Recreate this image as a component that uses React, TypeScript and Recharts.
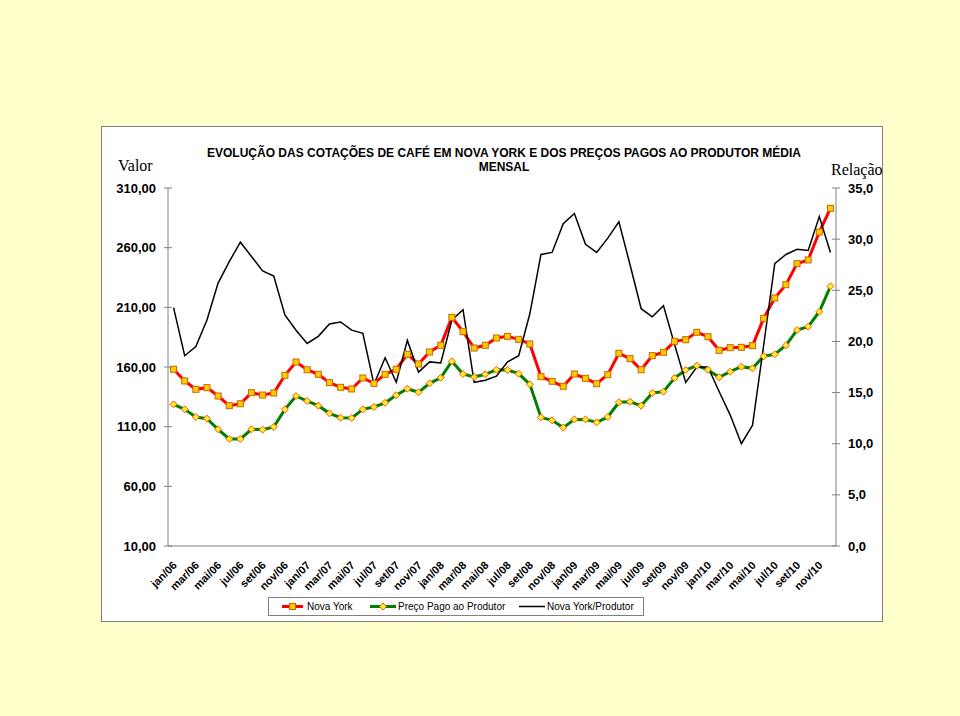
import React from 'react';
import { LineChart, Line, XAxis, YAxis } from 'recharts';

const months = [
  'jan/06','fev/06','mar/06','abr/06','mai/06','jun/06','jul/06','ago/06','set/06','out/06','nov/06','dez/06',
  'jan/07','fev/07','mar/07','abr/07','mai/07','jun/07','jul/07','ago/07','set/07','out/07','nov/07','dez/07',
  'jan/08','fev/08','mar/08','abr/08','mai/08','jun/08','jul/08','ago/08','set/08','out/08','nov/08','dez/08',
  'jan/09','fev/09','mar/09','abr/09','mai/09','jun/09','jul/09','ago/09','set/09','out/09','nov/09','dez/09',
  'jan/10','fev/10','mar/10','abr/10','mai/10','jun/10','jul/10','ago/10','set/10','out/10','nov/10','dez/10',
];

const novaYork = [
  158.1, 148.3, 141.3, 142.7, 135.7, 127.6, 129.2, 138.5, 136.5, 138.2, 153.0, 164.2,
  157.7, 153.9, 146.9, 143.0, 141.6, 150.8, 146.3, 153.9, 158.1, 170.6, 162.5, 172.6,
  178.2, 201.6, 189.6, 175.9, 178.2, 184.3, 185.7, 183.2, 179.3, 151.9, 148.0, 143.8,
  154.1, 150.5, 146.0, 153.6, 171.5, 167.0, 157.7, 169.5, 172.3, 181.5, 182.9, 189.1,
  185.4, 174.0, 176.2, 176.5, 177.9, 200.8, 217.8, 229.0, 246.6, 249.7, 273.1, 293.0,
];

const produtor = [
  128.7, 124.5, 118.1, 116.7, 107.8, 99.7, 99.7, 107.8, 107.5, 109.8, 124.5, 135.7,
  131.5, 127.6, 121.2, 117.5, 117.3, 124.5, 126.5, 130.0, 136.3, 141.8, 138.8, 146.3,
  151.0, 164.8, 154.1, 151.6, 153.9, 157.7, 157.5, 154.4, 145.5, 117.8, 115.3, 109.2,
  116.1, 116.1, 113.6, 118.1, 130.4, 130.9, 127.6, 138.2, 139.3, 150.8, 157.5, 161.1,
  157.7, 151.4, 156.1, 160.3, 158.9, 169.0, 170.6, 178.2, 191.0, 193.8, 206.3, 227.6,
];

const relacao = [
  23.3, 18.6, 19.5, 22.1, 25.7, 27.8, 29.7, 28.3, 26.9, 26.4, 22.6, 21.1,
  19.8, 20.5, 21.7, 21.9, 21.1, 20.8, 15.8, 18.4, 16.0, 20.1, 17.0, 18.0,
  17.9, 22.1, 23.1, 16.0, 16.2, 16.6, 18.0, 18.6, 22.7, 28.5, 28.7, 31.5,
  32.5, 29.5, 28.7, 30.1, 31.7, 27.5, 23.2, 22.4, 23.5, 19.7, 16.0, 17.5,
  17.5, 15.1, 12.8, 10.0, 11.8, 19.6, 27.6, 28.5, 29.0, 28.9, 32.2, 28.7,
];

const leftTicks = [10, 60, 110, 160, 210, 260, 310];
const rightTicks = [0, 5, 10, 15, 20, 25, 30, 35];
const labelMonths = months.filter((_, i) => i % 2 === 0);
const minorTicks = months.map((_, i) => i).concat([months.length]);

const data = months.map((m, i) => ({ m, ny: novaYork[i], pr: produtor[i], rel: relacao[i] }));

const FONT = 'Arial, "Liberation Sans", Helvetica, sans-serif';
const SERIF = '"Times New Roman", "Liberation Serif", serif';
const AXIS = '#808080';
const RED = '#FF0000';
const GREEN = '#008000';

const W = 960;
const H = 716;

const fmt2 = (v: number) => v.toFixed(2).replace('.', ',');
const fmt1 = (v: number) => v.toFixed(1).replace('.', ',');

const Square = (props: any) => {
  const { cx, cy } = props;
  if (cx == null || cy == null) return null;
  return <rect x={cx - 3} y={cy - 3} width={6} height={6} fill="#FFCC00" stroke="#CC6600" strokeWidth={1} />;
};

const Diamond = (props: any) => {
  const { cx, cy } = props;
  if (cx == null || cy == null) return null;
  return (
    <path
      d={`M${cx},${cy - 3.5}L${cx + 3.5},${cy}L${cx},${cy + 3.5}L${cx - 3.5},${cy}Z`}
      fill="#FFEE33"
      stroke="#FF5500"
      strokeWidth={1}
    />
  );
};

const LeftTick = (props: any) => {
  const { x, y, payload } = props;
  return (
    <g>
      <line x1={x - 4} x2={x + 4} y1={y} y2={y} stroke={AXIS} />
      <text x={x - 12} y={y} dy={4.5} textAnchor="end" fontFamily={FONT} fontWeight="bold" fontSize={13} fill="#000">
        {fmt2(payload.value)}
      </text>
    </g>
  );
};

const RightTick = (props: any) => {
  const { x, y, payload } = props;
  return (
    <g>
      <line x1={x - 4} x2={x + 4} y1={y} y2={y} stroke={AXIS} />
      <text x={x + 12} y={y} dy={4.5} textAnchor="start" fontFamily={FONT} fontWeight="bold" fontSize={13} fill="#000">
        {fmt1(payload.value)}
      </text>
    </g>
  );
};

const MinorTick = (props: any) => {
  const { x, y } = props;
  return <line x1={x} x2={x} y1={y - 4} y2={y + 4} stroke={AXIS} />;
};

const MonthTick = (props: any) => {
  const { x, y, payload } = props;
  const ax = x + 4;
  const ay = y + 20;
  return (
    <text
      x={ax}
      y={ay}
      transform={`rotate(-45 ${ax} ${ay})`}
      textAnchor="end"
      fontFamily={FONT}
      fontWeight="bold"
      fontSize={11}
      fill="#000"
    >
      {payload.value}
    </text>
  );
};

const plotW = 668;
const pad = plotW / (2 * months.length);

export default function App() {
  return (
    <div style={{ position: 'absolute', left: 0, top: 0, width: W, height: H, background: '#FFFFCC', overflow: 'hidden' }}>
      <div
        style={{
          position: 'absolute',
          left: 101,
          top: 126,
          width: 780,
          height: 494,
          background: '#FFFFFF',
          border: `1px solid ${AXIS}`,
        }}
      />
      <div style={{ position: 'absolute', left: 0, top: 0 }}>
        <LineChart width={W} height={H} data={data} margin={{ top: 188, right: 64, bottom: 110, left: 108 }}>
          <XAxis
            xAxisId="minor"
            type="number"
            domain={[0, months.length]}
            ticks={minorTicks}
            interval={0}
            allowDataOverflow
            height={0}
            axisLine={false}
            tickLine={false}
            tickSize={0}
            tickMargin={0}
            tick={<MinorTick />}
          />
          <XAxis
            dataKey="m"
            ticks={labelMonths}
            interval={0}
            height={60}
            padding={{ left: pad, right: pad }}
            axisLine={{ stroke: AXIS }}
            tickLine={false}
            tickSize={0}
            tickMargin={0}
            tick={<MonthTick />}
          />
          <YAxis
            yAxisId="left"
            domain={[10, 310]}
            ticks={leftTicks}
            interval={0}
            width={60}
            axisLine={{ stroke: AXIS }}
            tickLine={false}
            tickSize={0}
            tickMargin={0}
            tick={<LeftTick />}
          />
          <YAxis
            yAxisId="right"
            orientation="right"
            domain={[0, 35]}
            ticks={rightTicks}
            interval={0}
            width={60}
            axisLine={{ stroke: AXIS }}
            tickLine={false}
            tickSize={0}
            tickMargin={0}
            tick={<RightTick />}
          />
          <Line yAxisId="left" dataKey="ny" stroke={RED} strokeWidth={3} dot={<Square />} activeDot={false} isAnimationActive={false} />
          <Line yAxisId="left" dataKey="pr" stroke={GREEN} strokeWidth={3} dot={<Diamond />} activeDot={false} isAnimationActive={false} />
          <Line yAxisId="right" dataKey="rel" stroke="#000000" strokeWidth={1.5} dot={false} activeDot={false} isAnimationActive={false} />
        </LineChart>
      </div>
      <svg width={W} height={H} style={{ position: 'absolute', left: 0, top: 0, pointerEvents: 'none' }}>
        <text x={504} y={157} textAnchor="middle" fontFamily={FONT} fontWeight="bold" fontSize={12} fill="#000">
          EVOLUÇÃO DAS COTAÇÕES DE CAFÉ EM NOVA YORK E DOS PREÇOS PAGOS AO PRODUTOR MÉDIA
        </text>
        <text x={504} y={171} textAnchor="middle" fontFamily={FONT} fontWeight="bold" fontSize={12} fill="#000">
          MENSAL
        </text>
        <text x={118} y={171} fontFamily={SERIF} fontSize={16} fill="#000">Valor</text>
        <text x={831} y={175} fontFamily={SERIF} fontSize={16} fill="#000">Relação</text>
        <rect x={268.5} y={597.5} width={375} height={18} fill="#FFFFFF" stroke={AXIS} />
        <line x1={282} x2={303} y1={606.5} y2={606.5} stroke={RED} strokeWidth={3} />
        <Square cx={292.5} cy={606.5} />
        <text x={307} y={610} fontFamily={FONT} fontSize={10} fill="#000">Nova York</text>
        <line x1={370} x2={396} y1={606.5} y2={606.5} stroke={GREEN} strokeWidth={3} />
        <Diamond cx={383} cy={606.5} />
        <text x={398} y={610} fontFamily={FONT} fontSize={10} fill="#000">Preço Pago ao Produtor</text>
        <line x1={519} x2={545} y1={606.5} y2={606.5} stroke="#000000" strokeWidth={1.5} />
        <text x={547} y={610} fontFamily={FONT} fontSize={10} fill="#000">Nova York/Produtor</text>
      </svg>
    </div>
  );
}
